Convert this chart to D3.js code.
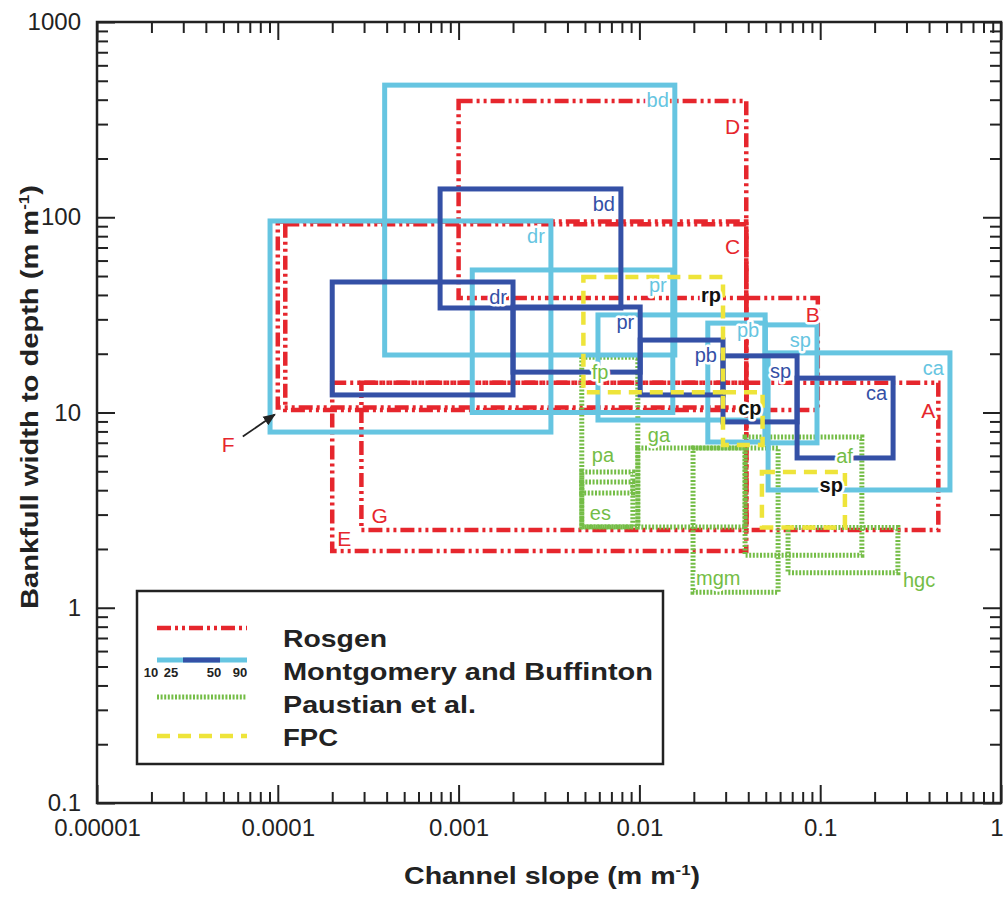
<!DOCTYPE html>
<html>
<head>
<meta charset="utf-8">
<script src="https://cdn.jsdelivr.net/npm/d3@7"></script>
<style>
body { margin: 0; background: #fff; }
svg { display: block; font-family: "Liberation Sans", Arial, Helvetica, sans-serif; }
.lbl { font-size: 20px; paint-order: stroke; stroke: #fff; stroke-width: 5px; stroke-linejoin: round; }
.tick text { font-size: 24px; fill: #222; }
.title { font-size: 24px; font-weight: bold; fill: #222; }
</style>
</head>
<body>
<svg id="chart" width="1003" height="899"></svg>
<script>

// stream classes, each box: slope range [min,max] and width/depth range [min,max]
var rosgenNames = ["A", "B", "C", "D", "E", "F", "G"];
var rosgenSlope = [[0.039, 0.45], [0.039, 0.097], [0.00011, 0.039], [0.001, 0.039], [0.0002, 0.039], [0.0001, 0.039], [0.00029, 0.039]];
var rosgenWD    = [[2.5, 14.2], [10.3, 38.6], [10.3, 92], [38.6, 394], [1.95, 14.2], [10.6, 95], [2.5, 14.2]];

// Montgomery and Buffington, 10th-90th percentile
var mb90Names = ["bd", "dr", "pr", "pb", "", "sp", "ca"];
var mb90Slope = [[0.00039, 0.0157], [0.0000906, 0.00324], [0.00119, 0.0153], [0.0059, 0.0496], [0.0239, 0.0496], [0.0496, 0.096], [0.0515, 0.522]];
var mb90WD    = [[19.7, 475], [7.94, 95.7], [10.0, 53.7], [9.15, 31.6], [7.06, 28.7], [6.99, 28.1], [4.01, 20.2]];

// Montgomery and Buffington, 25th-75th percentile
var mb50Names = ["bd", "dr", "pr", "pb", "sp", "ca"];
var mb50Slope = [[0.00079, 0.0079], [0.0002, 0.002], [0.002, 0.0101], [0.0101, 0.029], [0.029, 0.0745], [0.0745, 0.253]];
var mb50WD    = [[34.3, 139.6], [12.3, 46.6], [16.1, 34.7], [12.3, 23.5], [8.95, 19.5], [5.85, 15.0]];

// Paustian et al.
var pauNames = ["fp", "pa", "es", "ga", "mgm", "af", "hgc"];
var pauSlope = [[0.0048, 0.0098], [0.0048, 0.0092], [0.0048, 0.0092], [0.0098, 0.0384], [0.0198, 0.0585], [0.0384, 0.17], [0.0664, 0.269]];
var pauWD    = [[2.59, 19.2], [3.87, 4.96], [2.6, 4.41], [2.59, 6.58], [1.2, 6.58], [1.86, 7.49], [1.51, 2.58]];

// FPC
var fpcNames = ["rp", "cp", "sp"];
var fpcSlope = [[0.0049, 0.029], [0.029, 0.048], [0.0476, 0.137]];
var fpcWD    = [[12.7, 49.4], [6.82, 12.7], [2.58, 4.96]];

var xTickVals = [0.00001, 0.0001, 0.001, 0.01, 0.1, 1];
var xTickText = ["0.00001", "0.0001", "0.001", "0.01", "0.1", "1"];
var yTickVals = [0.1, 1, 10, 100, 1000];
var yTickText = ["0.1", "1", "10", "100", "1000"];

var legendNames = ["Rosgen", "Montgomery and Buffinton", "Paustian et al.", "FPC"];
var pctText = ["10", "25", "50", "90"];

//---------------------------------------
var svg = d3.select("#chart");
var m = {left: 97, right: 1001, top: 22, bottom: 803};

var x = d3.scaleLog().domain([1e-5, 1]).range([m.left, m.right]);
var y = d3.scaleLog().domain([0.1, 1000]).range([m.bottom, m.top]);

function boxes(names, slope, wd) {
  return names.map(function(n, i) {
    return {name: n, x0: slope[i][0], x1: slope[i][1], y0: wd[i][0], y1: wd[i][1]};
  });
}

var groups = [
  {key: "ros", data: boxes(rosgenNames, rosgenSlope, rosgenWD), color: "#e6262d", width: 4.5, dash: "14,4,3,4,3,4", text: "#e6262d", size: 21},
  {key: "pau", data: boxes(pauNames, pauSlope, pauWD), color: "#74bd46", width: 5, dash: "2,1.6", text: "#74bd46", size: 20},
  {key: "mb90", data: boxes(mb90Names, mb90Slope, mb90WD), color: "#66c5e1", width: 5, dash: null, text: "#66c5e1", size: 20},
  {key: "mb50", data: boxes(mb50Names, mb50Slope, mb50WD), color: "#3450a6", width: 5, dash: null, text: "#3450a6", size: 20},
  {key: "fpc", data: boxes(fpcNames, fpcSlope, fpcWD), color: "#eee43a", width: 4.5, dash: "13,8", text: "#111", size: 20, bold: true}
];

// label spot: corner of the box, anchor, dx, dy
var place = {
  "ros:A": ["tr", "end", -3, 35], "ros:B": ["tr", "end", 2, 24], "ros:C": ["tr", "end", -6, 30],
  "ros:D": ["tr", "end", -6, 33], "ros:E": ["bl", "start", 5, -5], "ros:G": ["bl", "start", 10, -7],
  "pau:fp": ["tl", "start", 10, 22], "pau:pa": ["tl", "start", 10, -10], "pau:es": ["bl", "start", 8, -7],
  "pau:ga": ["tl", "start", 10, -6], "pau:mgm": ["bl", "start", 3, -7], "pau:af": ["tr", "end", -9, 26],
  "pau:hgc": ["br", "start", 5, 14],
  "fpc:rp": ["tr", "end", -2, 25], "fpc:cp": ["tr", "end", -1, 23], "fpc:sp": ["tr", "end", -2, 20]
};

var plot = svg.append("g");

groups.forEach(function(gr) {
  var g = plot.append("g").attr("class", gr.key);
  g.selectAll("rect")
    .data(gr.data)
    .enter().append("rect")
    .attr("x", function(d) { return x(d.x0); })
    .attr("y", function(d) { return y(d.y1); })
    .attr("width", function(d) { return x(d.x1) - x(d.x0); })
    .attr("height", function(d) { return y(d.y0) - y(d.y1); })
    .attr("fill", "none")
    .attr("stroke", gr.color)
    .attr("stroke-width", gr.width)
    .attr("stroke-dasharray", gr.dash);
});

// labels drawn after all boxes so their white halo cuts the lines
groups.forEach(function(gr) {
  plot.append("g").selectAll("text")
    .data(gr.data.filter(function(d) { return d.name && d.name !== "F"; }))
    .enter().append("text")
    .attr("class", "lbl")
    .style("font-size", gr.size + "px")
    .style("font-weight", gr.bold ? "bold" : null)
    .attr("fill", gr.text)
    .each(function(d) {
      var p = place[gr.key + ":" + d.name] || ["tr", "end", -6, 22];
      var px = p[0][1] === "r" ? x(d.x1) : x(d.x0);
      var py = p[0][0] === "t" ? y(d.y1) : y(d.y0);
      d3.select(this)
        .attr("x", px + p[2])
        .attr("y", py + p[3])
        .attr("text-anchor", p[1])
        .text(d.name);
    });
});

// F label with arrow to its box corner
svg.append("defs").append("marker")
  .attr("id", "arr").attr("viewBox", "0 0 10 10")
  .attr("refX", 9).attr("refY", 5)
  .attr("markerWidth", 7).attr("markerHeight", 7)
  .attr("orient", "auto")
  .append("path").attr("d", "M0,1L10,5L0,9z").attr("fill", "#222");

var F = groups[0].data[5];
var fx = x(F.x0), fy = y(F.y0);
plot.append("line")
  .attr("x1", fx - 35).attr("y1", fy + 29)
  .attr("x2", fx - 3).attr("y2", fy + 7)
  .attr("stroke", "#222").attr("stroke-width", 1.8)
  .attr("marker-end", "url(#arr)");
plot.append("text")
  .attr("class", "lbl")
  .style("font-size", "21px")
  .attr("fill", "#e6262d")
  .attr("x", fx - 56).attr("y", fy + 44)
  .text("F");

//---------------------------------------
// axes, ticks inward on all four sides
var xMinor = x.ticks().filter(function(v) { return xTickVals.indexOf(v) < 0; });
var yMinor = y.ticks().filter(function(v) { return yTickVals.indexOf(v) < 0; });

function axisSet(axisFn, scale, vals, size, fmt) {
  return axisFn(scale).tickValues(vals).tickSize(size).tickPadding(16)
    .tickFormat(fmt ? function(d, i) { return fmt[i]; } : "");
}

var ax = svg.append("g");
var xBottom = ax.append("g").attr("transform", "translate(0," + m.bottom + ")")
  .call(axisSet(d3.axisBottom, x, xTickVals, -18, xTickText));
ax.append("g").attr("transform", "translate(0," + m.bottom + ")")
  .call(axisSet(d3.axisBottom, x, xMinor, -11));
ax.append("g").attr("transform", "translate(0," + m.top + ")")
  .call(axisSet(d3.axisTop, x, xTickVals, -18));
ax.append("g").attr("transform", "translate(0," + m.top + ")")
  .call(axisSet(d3.axisTop, x, xMinor, -11));
ax.append("g").attr("transform", "translate(" + m.left + ",0)")
  .call(axisSet(d3.axisLeft, y, yTickVals, -18, yTickText));
ax.append("g").attr("transform", "translate(" + m.left + ",0)")
  .call(axisSet(d3.axisLeft, y, yMinor, -11));
ax.append("g").attr("transform", "translate(" + m.right + ",0)")
  .call(axisSet(d3.axisRight, y, yTickVals, -18));
ax.append("g").attr("transform", "translate(" + m.right + ",0)")
  .call(axisSet(d3.axisRight, y, yMinor, -11));

ax.selectAll(".domain").remove();
ax.selectAll(".tick line").attr("stroke", "#222").attr("stroke-width", 2);
ax.selectAll(".tick text").attr("font-family", null).attr("font-size", null);

// last x label sits on the frame edge, keep it inside the page
xBottom.selectAll(".tick text")
  .filter(function(d) { return d === 1; })
  .attr("text-anchor", "end").attr("x", 2);

svg.append("rect")
  .attr("x", m.left).attr("y", m.top)
  .attr("width", m.right - m.left).attr("height", m.bottom - m.top)
  .attr("fill", "none").attr("stroke", "#222").attr("stroke-width", 2.5);

// axis titles
var xt = svg.append("text").attr("class", "title")
  .attr("x", (m.left + m.right) / 2 + 3).attr("y", 884)
  .attr("text-anchor", "middle")
  .attr("textLength", 296).attr("lengthAdjust", "spacingAndGlyphs");
xt.append("tspan").text("Channel slope (m m");
xt.append("tspan").attr("dy", -9).style("font-size", "14px").text("-1");
xt.append("tspan").attr("dy", 9).text(")");

var yt = svg.append("text").attr("class", "title")
  .attr("transform", "translate(38," + 397 + ") rotate(-90)")
  .attr("text-anchor", "middle")
  .attr("textLength", 424).attr("lengthAdjust", "spacingAndGlyphs");
yt.append("tspan").text("Bankfull width to depth (m m");
yt.append("tspan").attr("dy", -9).style("font-size", "14px").text("-1");
yt.append("tspan").attr("dy", 9).text(")");

//---------------------------------------
// legend
var lg = svg.append("g");
lg.append("rect")
  .attr("x", 137).attr("y", 591).attr("width", 526).attr("height", 173)
  .attr("fill", "#fff").attr("stroke", "#222").attr("stroke-width", 2.5);

var legY = [628, 660, 697, 736];
var legTextY = [647, 680, 713, 746];
var legLen = [104, 370, 193, 55];
var legStyle = [groups[0], groups[2], groups[1], groups[4]];

lg.selectAll("line.key")
  .data(legStyle)
  .enter().append("line")
  .attr("class", "key")
  .attr("x1", 157).attr("x2", 247)
  .attr("y1", function(d, i) { return legY[i]; })
  .attr("y2", function(d, i) { return legY[i]; })
  .attr("stroke", function(d) { return d.color; })
  .attr("stroke-width", function(d) { return d.width; })
  .attr("stroke-dasharray", function(d) { return d.dash; });

// inner percentile bar of the Montgomery key
lg.append("line")
  .attr("x1", 183).attr("x2", 220).attr("y1", legY[1]).attr("y2", legY[1])
  .attr("stroke", groups[3].color).attr("stroke-width", 5);

var pctX = [151, 171, 214, 240];
lg.selectAll("text.pct")
  .data(pctText)
  .enter().append("text")
  .attr("class", "pct")
  .attr("x", function(d, i) { return pctX[i]; })
  .attr("y", 677)
  .attr("text-anchor", "middle")
  .style("font-size", "13px").style("font-weight", "bold")
  .attr("fill", "#222")
  .text(function(d) { return d; });

lg.selectAll("text.name")
  .data(legendNames)
  .enter().append("text")
  .attr("class", "name title")
  .attr("x", 283)
  .attr("y", function(d, i) { return legTextY[i]; })
  .attr("textLength", function(d, i) { return legLen[i]; })
  .attr("lengthAdjust", "spacingAndGlyphs")
  .text(function(d) { return d; });

</script>
</body>
</html>
